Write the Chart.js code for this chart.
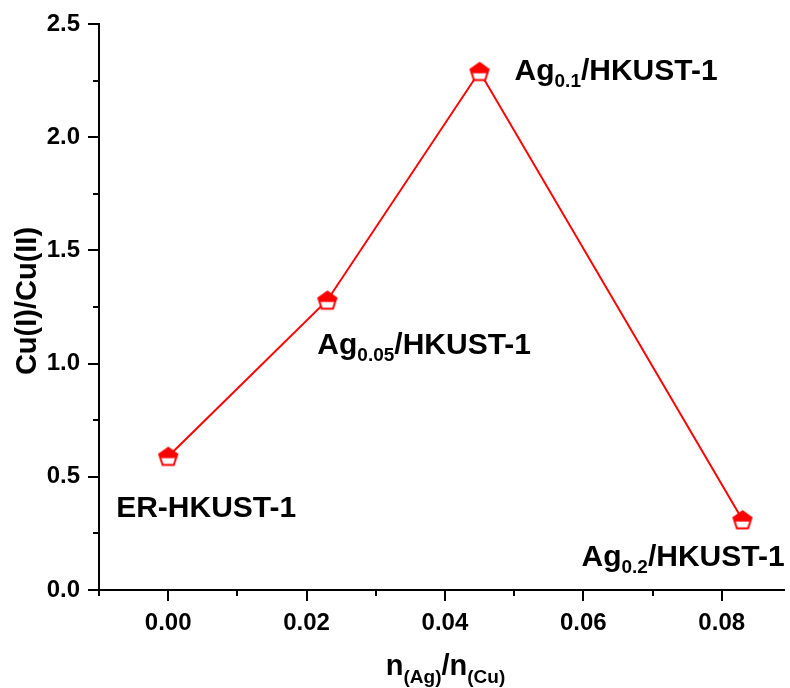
<!DOCTYPE html>
<html lang="en">
<head>
<meta charset="UTF-8">
<title>Cu(I)/Cu(II) vs n(Ag)/n(Cu)</title>
<script src="https://cdn.jsdelivr.net/npm/chart.js"></script>
<style>
    body { margin: 0; padding: 0; background: #fff; }
    #wrap { width: 790px; height: 688px; position: relative; }
</style>
</head>
<body>
<div id="wrap"><canvas id="chart"></canvas></div>
<script>
    // data
    const xValues = [0.0, 0.023, 0.045, 0.083];
    const yValues = [0.59, 1.28, 2.29, 0.31];
    const labelHead = ['ER-HKUST-1', 'Ag', 'Ag', 'Ag'];
    const labelSub = ['', '0.05', '0.1', '0.2'];
    const labelTail = ['', '/HKUST-1', '/HKUST-1', '/HKUST-1'];
    const xTicks = [-0.01, 0.0, 0.01, 0.02, 0.03, 0.04, 0.05, 0.06, 0.07, 0.08];

    // label placement relative to its point (px)
    const labelOffsets = [
        { dx: -52, dy: 61 },
        { dx: -10, dy: 54 },
        { dx: 35, dy: 8 },
        { dx: -161, dy: 46 }
    ];

    const FONT = '"Liberation Sans", Arial, sans-serif';
    const RED = '#ff0000';

    // half filled pentagon marker
    function makePentagon() {
        const c = document.createElement('canvas');
        c.width = 24; c.height = 24;
        const g = c.getContext('2d');
        const r = 9.5, cx = 12, cy = 12.9;
        g.beginPath();
        for (let i = 0; i < 5; i++) {
            const a = (-90 + i * 72) * Math.PI / 180;
            const px = cx + r * Math.cos(a), py = cy + r * Math.sin(a);
            if (i === 0) g.moveTo(px, py); else g.lineTo(px, py);
        }
        g.closePath();
        g.fillStyle = '#fff';
        g.fill();
        g.save();
        g.clip();
        g.fillStyle = RED;
        g.fillRect(0, 0, 24, cy + 0.8);
        g.restore();
        g.lineWidth = 2;
        g.strokeStyle = RED;
        g.stroke();
        return c;
    }

    // draws the text bits Chart.js can't (subscripts, outward major/minor ticks)
    const extras = {
        id: 'extras',
        afterDraw(chart) {
            const ctx = chart.ctx;
            const xs = chart.scales.x, ys = chart.scales.y;
            const area = chart.chartArea;
            ctx.save();

            // tick marks
            ctx.strokeStyle = '#000';
            ctx.lineWidth = 2;
            xs.ticks.forEach(t => {
                const px = Math.round(xs.getPixelForValue(t.value));
                const major = Math.round(t.value * 100) % 2 === 0;
                ctx.beginPath();
                ctx.moveTo(px, area.bottom);
                ctx.lineTo(px, area.bottom + (major ? 11 : 6));
                ctx.stroke();
            });
            ys.ticks.forEach(t => {
                const py = Math.round(ys.getPixelForValue(t.value));
                const major = Math.round(t.value * 4) % 2 === 0;
                ctx.beginPath();
                ctx.moveTo(area.left, py);
                ctx.lineTo(area.left - (major ? 11 : 6), py);
                ctx.stroke();
            });

            // point labels
            ctx.fillStyle = '#000';
            ctx.textBaseline = 'alphabetic';
            ctx.textAlign = 'left';
            for (let i = 0; i < xValues.length; i++) {
                let px = xs.getPixelForValue(xValues[i]) + labelOffsets[i].dx;
                const base = ys.getPixelForValue(yValues[i]) + labelOffsets[i].dy;
                ctx.font = 'bold 30px ' + FONT;
                ctx.fillText(labelHead[i], px, base);
                px += ctx.measureText(labelHead[i]).width;
                if (labelSub[i]) {
                    ctx.font = 'bold 19px ' + FONT;
                    ctx.fillText(labelSub[i], px, base + 7);
                    px += ctx.measureText(labelSub[i]).width;
                }
                if (labelTail[i]) {
                    ctx.font = 'bold 30px ' + FONT;
                    ctx.fillText(labelTail[i], px, base);
                }
            }

            // x title: n(Ag)/n(Cu)
            const parts = [['n', 29, 0], ['(Ag)', 19, 8], ['/', 29, 0], ['n', 29, 0], ['(Cu)', 19, 8]];
            let total = 0;
            parts.forEach(p => { ctx.font = 'bold ' + p[1] + 'px ' + FONT; total += ctx.measureText(p[0]).width; });
            let tx = (area.left + area.right) / 2 + 4 - total / 2;
            const tb = area.bottom + 85;
            parts.forEach(p => {
                ctx.font = 'bold ' + p[1] + 'px ' + FONT;
                ctx.fillText(p[0], tx, tb + p[2]);
                tx += ctx.measureText(p[0]).width;
            });

            // y title
            ctx.translate(28, (area.top + area.bottom) / 2 - 6);
            ctx.rotate(-Math.PI / 2);
            ctx.font = 'bold 29px ' + FONT;
            ctx.textAlign = 'center';
            ctx.textBaseline = 'middle';
            ctx.fillText('Cu(I)/Cu(II)', 0, 0);
            ctx.restore();
        }
    };

    const points = xValues.map((x, i) => ({ x: x, y: yValues[i] }));

    new Chart(document.getElementById('chart'), {
        type: 'line',
        data: {
            datasets: [{
                data: points,
                borderColor: RED,
                borderWidth: 2,
                tension: 0,
                pointStyle: makePentagon(),
                clip: false
            }]
        },
        options: {
            responsive: true,
            maintainAspectRatio: false,
            animation: false,
            layout: { padding: { top: 24, right: 0, left: 0, bottom: 0 } },
            plugins: { legend: { display: false }, tooltip: { enabled: false } },
            scales: {
                x: {
                    type: 'linear',
                    min: -0.01,
                    max: 0.089,
                    afterBuildTicks: s => { s.ticks = xTicks.map(v => ({ value: v })); },
                    afterFit: s => { s.height = 98; },
                    border: { display: true, color: '#000', width: 2 },
                    grid: { drawOnChartArea: false, tickLength: 11, tickColor: 'rgba(0,0,0,0)' },
                    ticks: {
                        autoSkip: false,
                        maxRotation: 0,
                        padding: 8,
                        color: '#000',
                        font: { family: FONT, size: 24, weight: 'bold' },
                        callback: v => (Math.round(v * 100) % 2 === 0 ? v.toFixed(2) : '')
                    }
                },
                y: {
                    min: 0,
                    max: 2.5,
                    afterFit: s => { s.width = 99; },
                    border: { display: true, color: '#000', width: 2 },
                    grid: { drawOnChartArea: false, tickLength: 11, tickColor: 'rgba(0,0,0,0)' },
                    ticks: {
                        stepSize: 0.25,
                        autoSkip: false,
                        padding: 8,
                        color: '#000',
                        font: { family: FONT, size: 24, weight: 'bold' },
                        callback: v => (Math.round(v * 4) % 2 === 0 ? v.toFixed(1) : '')
                    }
                }
            }
        },
        plugins: [extras]
    });
</script>
</body>
</html>
